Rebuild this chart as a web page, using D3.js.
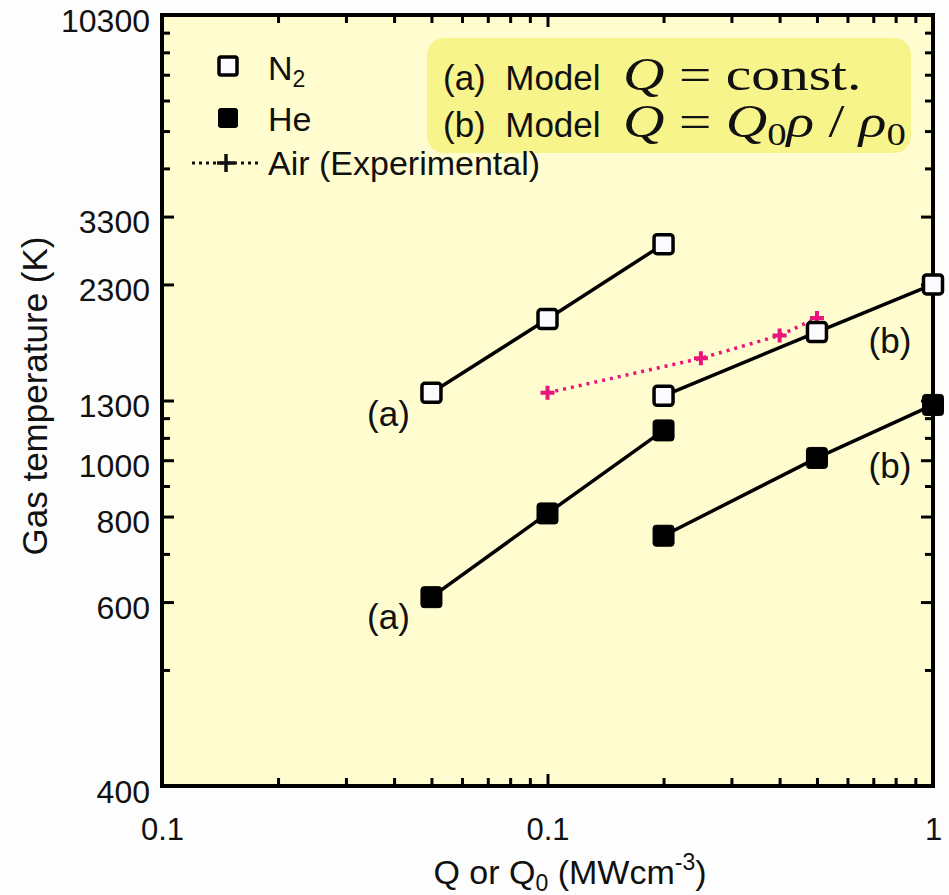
<!DOCTYPE html>
<html><head><meta charset="utf-8">
<script src="https://cdn.jsdelivr.net/npm/d3@7"></script>
<style>body{margin:0;background:#fff}text{font-family:"Liberation Sans",Arial,sans-serif;fill:#111}</style>
</head><body><svg id="c" width="949" height="895"></svg>
<script>
// ---------- data ----------
const xTickValues = [0.01, 0.1, 1];
const xTickLabels = ["0.1", "0.1", "1"];
const yTickLabels = [400, 600, 800, 1000, 1300, 2300, 3300, 10300];   // as printed
const yTickTrue   = [100, 300, 500, 700, 1000, 2000, 3000, 10000];    // underlying log-axis ticks

const qN2a = [0.05, 0.1, 0.2];
const tN2a = [1350, 1940, 2850];
const qN2b = [0.2, 0.5, 1];
const tN2b = [1330, 1820, 2300];
const qHeA = [0.05, 0.1, 0.2];
const tHeA = [610, 810, 1140];
const qHeB = [0.2, 0.5, 1];
const tHeB = [750, 1010, 1275];
const qAir = [0.1, 0.25, 0.4, 0.5];
const tAir = [1350, 1600, 1790, 1950];

const seriesLabels = [
  {text: "(a)", q: 0.05, t: 1350, dx: -43, dy: 33},
  {text: "(a)", q: 0.05, t: 610, dx: -43, dy: 32},
  {text: "(b)", q: 1, t: 2300, dx: -43, dy: 69},
  {text: "(b)", q: 1, t: 1275, dx: -43, dy: 73}
];

// ---------- setup ----------
const svg = d3.select("#c");
const L = 162, R = 933, T = 15, B = 786;
const PINK = "#e8157b";

svg.append("rect").attr("width", 949).attr("height", 895).attr("fill", "#fdfdfd");
svg.append("rect").attr("x", L).attr("y", T).attr("width", R - L).attr("height", B - T).attr("fill", "#fffdd0");

const x = d3.scaleLog().domain([0.01, 1]).range([L, R]);
const yBase = d3.scaleLog().domain([100, 10000]).range([B, T]);
// piecewise log scale mapping the printed tick values to their tick marks
const y = d3.scaleLog().domain(yTickLabels).range(yTickTrue.map(yBase));

// ---------- axes ----------
const minorX = x.ticks().filter(v => !xTickValues.some(m => Math.abs(m - v) / m < 1e-6));
const minorY = yBase.ticks().filter(v => !yTickTrue.some(m => Math.abs(m - v) / m < 1e-6));

function styleAxis(g) {
  g.select(".domain").remove();
  g.selectAll(".tick line").attr("stroke", "#000").attr("stroke-width", 3);
}
const xLab = d3.scaleOrdinal().domain(xTickValues).range(xTickLabels);
svg.append("g").attr("transform", `translate(0,${B})`)
  .call(d3.axisBottom(x).tickValues(xTickValues).tickSize(-12).tickFormat(d => xLab(d)))
  .call(styleAxis)
  .call(g => g.selectAll("text").attr("font-size", 31).attr("fill", "#111")
    .attr("font-family", "Liberation Sans").attr("y", 54).attr("dy", 0));
svg.append("g").attr("transform", `translate(0,${B})`)
  .call(d3.axisBottom(x).tickValues(minorX).tickSize(-8).tickFormat(""))
  .call(styleAxis);
svg.append("g").attr("transform", `translate(0,${T})`)
  .call(d3.axisTop(x).tickValues(xTickValues).tickSize(-12).tickFormat(""))
  .call(styleAxis);
svg.append("g").attr("transform", `translate(0,${T})`)
  .call(d3.axisTop(x).tickValues(minorX).tickSize(-8).tickFormat(""))
  .call(styleAxis);
svg.append("g").attr("transform", `translate(${L},0)`)
  .call(d3.axisLeft(y).tickValues(yTickLabels).tickSize(-12).tickFormat(d3.format("d")))
  .call(styleAxis)
  .call(g => g.selectAll("text").attr("font-size", 32).attr("fill", "#111")
    .attr("font-family", "Liberation Sans").attr("x", -12).attr("dy", "0.5em"));
svg.append("g").attr("transform", `translate(${L},0)`)
  .call(d3.axisLeft(yBase).tickValues(minorY).tickSize(-8).tickFormat(""))
  .call(styleAxis);
svg.append("g").attr("transform", `translate(${R},0)`)
  .call(d3.axisRight(y).tickValues(yTickLabels).tickSize(-12).tickFormat(""))
  .call(styleAxis);
svg.append("g").attr("transform", `translate(${R},0)`)
  .call(d3.axisRight(yBase).tickValues(minorY).tickSize(-8).tickFormat(""))
  .call(styleAxis);
svg.append("rect").attr("x", L).attr("y", T).attr("width", R - L).attr("height", B - T)
  .attr("fill", "none").attr("stroke", "#000").attr("stroke-width", 4);

// axis titles
svg.append("text").attr("transform", "translate(47,396) rotate(-90)").attr("text-anchor", "middle")
  .attr("font-size", 35).text("Gas temperature (K)");
const xt = svg.append("text").attr("x", 570).attr("y", 884).attr("text-anchor", "middle").attr("font-size", 34);
xt.append("tspan").text("Q or Q");
xt.append("tspan").attr("font-size", 23).attr("dy", 7).text("0");
xt.append("tspan").attr("dy", -7).text(" (MWcm");
xt.append("tspan").attr("font-size", 23).attr("dy", -14).text("-3");
xt.append("tspan").attr("dy", 14).text(")");

// ---------- annotation box ----------
svg.append("rect").attr("x", 427).attr("y", 38).attr("width", 484).attr("height", 115).attr("rx", 17)
  .attr("fill", "#f8f48c");
function boxLine(yy, label, build) {
  svg.append("text").attr("x", 443).attr("y", yy).attr("font-size", 35).text(label);
  const t = svg.append("g").attr("transform", `translate(623,${yy}) scale(1.25,1)`)
    .append("text").style("font-family", "'Liberation Serif','Times New Roman',serif").attr("font-size", 46);
  build(t);
}
boxLine(90, "(a)\u00a0 Model", t => {
  t.append("tspan").attr("font-style", "italic").text("Q");
  t.append("tspan").text(" = const.");
});
boxLine(137, "(b)\u00a0 Model", t => {
  t.append("tspan").attr("font-style", "italic").text("Q");
  t.append("tspan").text(" = ");
  t.append("tspan").attr("font-style", "italic").text("Q");
  t.append("tspan").attr("font-size", 31).attr("dy", 8).text("0");
  t.append("tspan").attr("font-style", "italic").attr("dy", -8).text("ρ");
  t.append("tspan").text(" / ");
  t.append("tspan").attr("font-style", "italic").text("ρ");
  t.append("tspan").attr("font-size", 31).attr("dy", 8).text("0");
});

// ---------- legend ----------
const lg = svg.append("g");
lg.append("rect").attr("x", 219).attr("y", 57).attr("width", 18).attr("height", 18).attr("rx", 2)
  .attr("fill", "#fbfbff").attr("stroke", "#000").attr("stroke-width", 3.5);
const n2t = lg.append("text").attr("x", 268).attr("y", 80).attr("font-size", 34);
n2t.append("tspan").text("N");
n2t.append("tspan").attr("font-size", 23).attr("dy", 7).text("2");
lg.append("rect").attr("x", 218).attr("y", 108).attr("width", 20).attr("height", 20).attr("rx", 3).attr("fill", "#000");
lg.append("text").attr("x", 268).attr("y", 131).attr("font-size", 34).text("He");
lg.append("line").attr("x1", 192).attr("x2", 258).attr("y1", 163).attr("y2", 163)
  .attr("stroke", "#111").attr("stroke-width", 3).attr("stroke-dasharray", "3,4");
lg.append("path").attr("d", "M217,163H235M226,154V172").attr("stroke", "#111").attr("stroke-width", 3.5);
lg.append("text").attr("x", 268).attr("y", 175).attr("font-size", 34).text("Air (Experimental)");

// ---------- data ----------
const line = d3.line().x(d => x(d[0])).y(d => y(d[1]));
const zip = (a, b) => a.map((v, i) => [v, b[i]]);
const sets = [
  {d: zip(qN2a, tN2a), open: true},
  {d: zip(qN2b, tN2b), open: true},
  {d: zip(qHeA, tHeA), open: false},
  {d: zip(qHeB, tHeB), open: false}
];
const air = zip(qAir, tAir);
svg.append("path").attr("d", line(air)).attr("fill", "none").attr("stroke", PINK)
  .attr("stroke-width", 3.5).attr("stroke-dasharray", "3,5");
svg.selectAll(".air").data(air).join("path").attr("class", "air")
  .attr("transform", d => `translate(${x(d[0])},${y(d[1])})`)
  .attr("d", "M-7,0H7M0,-7V7").attr("stroke", PINK).attr("stroke-width", 4);

sets.forEach(s => {
  svg.append("path").attr("d", line(s.d)).attr("fill", "none").attr("stroke", "#000").attr("stroke-width", 3.5);
});
sets.forEach(s => {
  const sz = s.open ? 19 : 21;
  svg.selectAll(null).data(s.d).join("rect")
    .attr("x", d => x(d[0]) - sz / 2).attr("y", d => y(d[1]) - sz / 2)
    .attr("width", sz).attr("height", sz).attr("rx", 3)
    .attr("fill", s.open ? "#fbfbff" : "#000")
    .attr("stroke", "#000").attr("stroke-width", s.open ? 3.5 : 1);
});

svg.selectAll(".slab").data(seriesLabels).join("text").attr("class", "slab")
  .attr("x", d => x(d.q) + d.dx).attr("y", d => y(d.t) + d.dy)
  .attr("text-anchor", "middle").attr("font-size", 35).text(d => d.text);
</script></body></html>
